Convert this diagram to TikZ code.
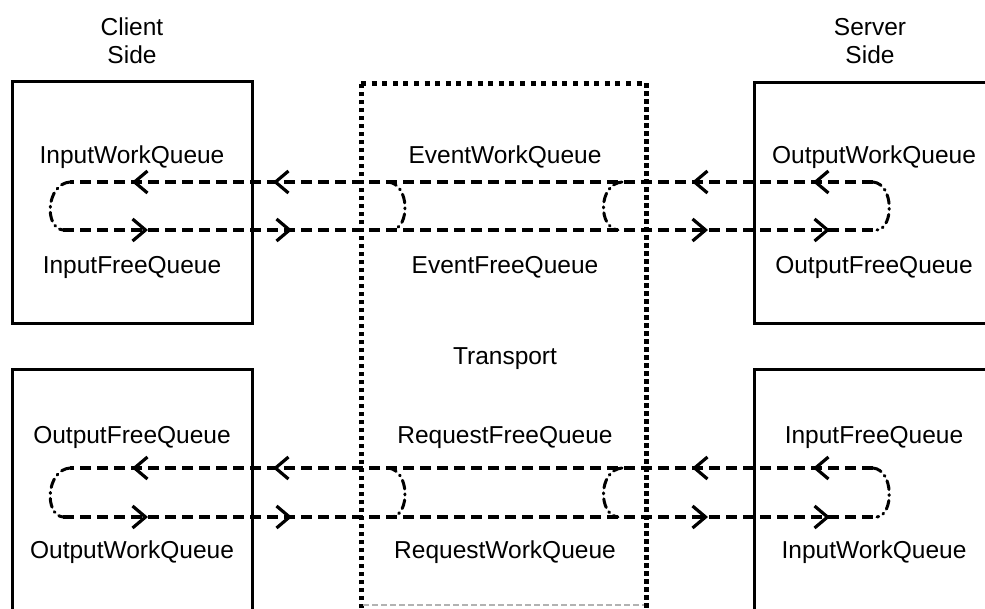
\documentclass[tikz,border=0pt]{standalone}
\usepackage{fontspec}
\setmainfont{Liberation Sans}
\usetikzlibrary{arrows.meta}
\begin{document}
\begin{tikzpicture}[x=1pt,y=-1pt,
  lbl/.style={anchor=base,inner sep=0pt,font=\fontsize{24.5}{28}\selectfont},
  sidebox/.style={line width=3pt},
  transbox/.style={line width=5pt,dash pattern=on 4.5pt off 3.5pt},
  flow/.style={line width=3.2pt,dash pattern=on 11pt off 6pt},
  turn/.style={line width=3pt,dash pattern=on 9pt off 5pt on 1pt off 5pt,line cap=round},
  tipl/.style={solid,line width=3.2pt,-{Straight Barb[length=13pt,width=22pt]}}
]
\useasboundingbox (0,0) rectangle (985,608);
\clip (0,0) rectangle (985,608);

% headers
\node[lbl] (client) at (132,35) {Client};
\node[lbl] (clientside) at (132,63) {Side};
\node[lbl] (server) at (870,35) {Server};
\node[lbl] (serverside) at (870,63) {Side};

% boxes
\coordinate (tlA) at (12,81);  \coordinate (tlB) at (252,323);
\coordinate (blA) at (12,369); \coordinate (blB) at (252,640);
\coordinate (trA) at (754,82); \coordinate (trB) at (1010,323);
\coordinate (brA) at (754,369);\coordinate (brB) at (1010,640);
\draw[sidebox] (tlA) rectangle (tlB);
\draw[sidebox] (blA) rectangle (blB);
\draw[sidebox] (trA) rectangle (trB);
\draw[sidebox] (brA) rectangle (brB);

% transport box
\coordinate (tp1) at (361,640);
\coordinate (tp2) at (361,83);
\coordinate (tp3) at (646,83);
\coordinate (tp4) at (646,640);
\draw[transbox] (tp1) -- (tp2);
\draw[transbox] (tp3) -- (tp4);
\draw[line width=5pt,dash pattern=on 5pt off 5.6pt] (tp2) -- (tp3);
\coordinate (tb1) at (363,605);
\coordinate (tb2) at (644,605);
\draw[black!30,line width=1.5pt,dash pattern=on 6pt off 3pt] (tb1) -- (tb2);

% labels
\node[lbl] (iwq1) at (132,163) {InputWorkQueue};
\node[lbl] (ifq1) at (132,273) {InputFreeQueue};
\node[lbl] (ewq) at (505,163) {EventWorkQueue};
\node[lbl] (efq) at (505,273) {EventFreeQueue};
\node[lbl] (owq1) at (874,163) {OutputWorkQueue};
\node[lbl] (ofq1) at (874,273) {OutputFreeQueue};
\node[lbl] (transport) at (505,364) {Transport};
\node[lbl] (ofq2) at (132,443) {OutputFreeQueue};
\node[lbl] (owq2) at (132,558) {OutputWorkQueue};
\node[lbl] (rfq) at (505,443) {RequestFreeQueue};
\node[lbl] (rwq) at (505,558) {RequestWorkQueue};
\node[lbl] (ifq2) at (874,443) {InputFreeQueue};
\node[lbl] (iwq2) at (874,558) {InputWorkQueue};

% flow loops, two levels
\foreach \t/\b/\n in {182/230/u, 468/517/d}{
  \coordinate (L\n) at (70,\t);   \coordinate (Lb\n) at (63,\b);
  \coordinate (R\n) at (873,\t);  \coordinate (Rb\n) at (877,\b);
  \draw[flow] (R\n) -- (L\n);
  \draw[flow] (Lb\n) -- (Rb\n);
  % loop ends
  \draw[turn] (L\n) .. controls (46,\t+2) and (44,\b-2) .. (Lb\n);
  \draw[turn] (R\n) .. controls (894,\t+2) and (894,\b-2) .. (Rb\n);
  \coordinate (M1\n) at (388,\t); \coordinate (M1b\n) at (392,\b);
  \coordinate (M2\n) at (622,\t); \coordinate (M2b\n) at (618,\b);
  \draw[turn] (M1\n) .. controls (410,\t+2) and (410,\b-2) .. (M1b\n);
  \draw[turn] (M2\n) .. controls (598,\t+2) and (598,\b-2) .. (M2b\n);
  % arrowheads
  \foreach \x in {132,273,692,813}{
    \coordinate (at\n\x) at (\x,\t);
    \coordinate (as\n\x) at (\x+2,\t);
    \draw[tipl] (as\n\x) -- (at\n\x);
  }
  \foreach \x in {148,292,708,830}{
    \coordinate (bt\n\x) at (\x,\b);
    \coordinate (bs\n\x) at (\x-2,\b);
    \draw[tipl] (bs\n\x) -- (bt\n\x);
  }
}
\end{tikzpicture}
\end{document}
